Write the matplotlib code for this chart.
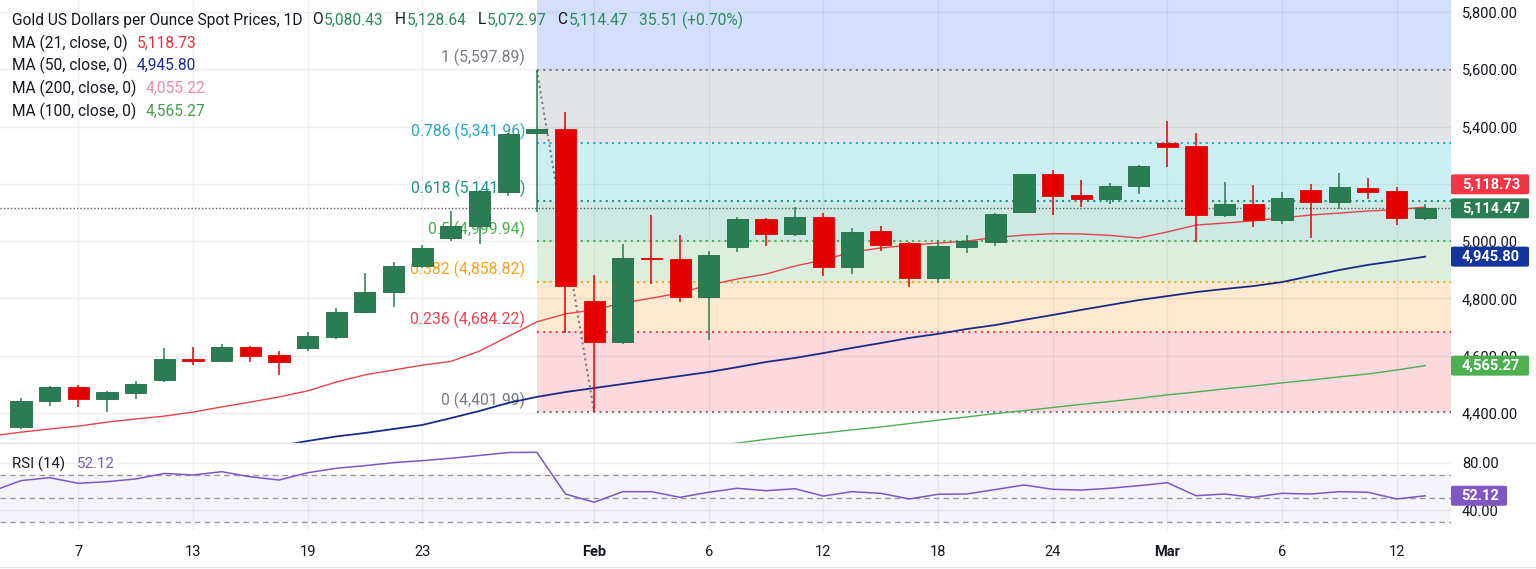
import numpy as np
import pandas as pd
import matplotlib
matplotlib.use("Agg")
import matplotlib.pyplot as plt
from matplotlib.lines import Line2D
from matplotlib.patches import FancyBboxPatch

plt.rcParams['font.family'] = ['Roboto', 'DejaVu Sans']

# ---------------- data ----------------
dates = ['2026-01-02'] + list(pd.bdate_range('2026-01-05', '2026-03-13').strftime('%Y-%m-%d'))
nan = np.nan
opens = [nan,
         4351, 4442, 4491, 4449, 4470, 4515, 4588, 4582, 4630, 4602,
         4627, 4665, 4753, 4822, 4913, 5011, 5053, 5172, 5377, 5391,
         4791, 4648, 4940, 4938, 4805, 4979, 5077, 5025, 5084, 4910,
         5035, 4993, 4871, 4979, 4997, 5102, 5234, 5161, 5148, 5193,
         5344, 5332, 5091, 5131, 5072, 5178, 5136, 5184, 5175, 5080.43]
highs = [nan,
         4452, 4494, 4498, 4475, 4512, 4627, 4630, 4641, 4633, 4616,
         4683, 4766, 4889, 4927, 4986, 5105, 5178, 5376, 5597.89, 5451,
         4882, 4990, 5091, 5021, 4966, 5084, 5081, 5119, 5098, 5046,
         5053, 4996, 5004, 5021, 5098, 5236, 5248, 5213, 5204, 5266,
         5420, 5379, 5206, 5195, 5172, 5198, 5239, 5220, 5190, 5128.64]
lows = [nan,
        4344, 4424, 4421, 4403, 4449, 4508, 4567, 4578, 4578, 4533,
        4616, 4658, 4750, 4770, 4906, 5000, 4990, 5158, 5102, 4679,
        4401.99, 4641, 4850, 4787, 4655, 4962, 4983, 5018, 4878, 4885,
        4965, 4840, 4854, 4959, 4983, 5099, 5091, 5118, 5130, 5165,
        5260, 4996, 5083, 5048, 5060, 5012, 5113, 5147, 5055, 5072.97]
closes = [nan,
          4442, 4491, 4449, 4473, 4501, 4588, 4582, 4630, 4599, 4578,
          4669, 4753, 4822, 4913, 4976, 5053, 5175, 5374, 5391, 4843,
          4648, 4941, 4936, 4805, 4952, 5077, 5025, 5084, 4910, 5032,
          4986, 4871, 4983, 5000, 5095, 5234, 5159, 5148, 5194, 5262,
          5330, 5091, 5131, 5072, 5151, 5136, 5188, 5173, 5080, 5114.47]
ma21 = [4320,
        4333, 4344, 4354, 4368, 4379, 4389, 4403, 4421, 4438, 4456,
        4477, 4508, 4533, 4550, 4567, 4580, 4616, 4667, 4718, 4746,
        4760, 4784, 4801, 4819, 4847, 4868, 4885, 4913, 4934, 4962,
        4976, 4986, 4993, 5000, 5013, 5021, 5026, 5025, 5020, 5011,
        5032, 5056, 5063, 5071, 5081, 5091, 5098, 5105, 5110, 5118.73]
ma50 = [nan] * 10 + [
        4285, 4302, 4318, 4330, 4344, 4358, 4382, 4407, 4435, 4456, 4473,
        4487, 4501, 4515, 4529, 4543, 4560, 4578, 4592, 4609, 4627,
        4644, 4662, 4676, 4693, 4707, 4725, 4742, 4760, 4777, 4794,
        4808, 4822, 4833, 4843, 4857, 4878, 4899, 4917, 4931, 4945.80]
ma100 = [nan] * 25 + [
        4285, 4295, 4308, 4320, 4330, 4341, 4351, 4363, 4375, 4386,
        4398, 4408, 4419, 4430, 4440, 4451, 4463, 4473, 4484, 4494,
        4505, 4515, 4526, 4536, 4550, 4565.27]
rsi = [56.0,
       65.0, 67.5, 62.7, 64.1, 66.4, 71.1, 69.8, 72.6, 68.3, 65.5,
       71.7, 75.5, 77.7, 80.3, 82.0, 84.0, 86.4, 88.9, 89.1, 53.6,
       46.6, 55.6, 55.6, 50.8, 55.1, 58.5, 56.4, 58.1, 51.9, 55.6,
       54.2, 49.4, 53.4, 53.6, 57.4, 61.3, 57.6, 57.0, 58.5, 60.7,
       63.2, 52.2, 53.6, 50.8, 54.2, 53.6, 55.6, 55.1, 49.4, 52.12]

fib_ratios = [1, 0.786, 0.618, 0.5, 0.382, 0.236, 0]
fib_values = [5597.89, 5341.96, 5141.06, 4999.94, 4858.82, 4684.22, 4401.99]
fib_start_date = '2026-01-29'
fib_end_date = '2026-02-02'

x_tick_dates = ['2026-01-07', '2026-01-13', '2026-01-19', '2026-01-23', '2026-02-02', '2026-02-06',
                '2026-02-12', '2026-02-18', '2026-02-24', '2026-03-02', '2026-03-06', '2026-03-12']
x_tick_labels = ['7', '13', '19', '23', 'Feb', '6', '12', '18', '24', 'Mar', '6', '12']
price_ticks = [4400, 4600, 4800, 5000, 5200, 5400, 5600, 5800]
rsi_ticks = [40, 80]

header_title = 'Gold US Dollars per Ounce Spot Prices, 1D'
ohlc_last = [('O', '5,080.43'), ('H', '5,128.64'), ('L', '5,072.97'), ('C', '5,114.47')]
change_text = '35.51 (+0.70%)'
legend_rows = [('MA (21, close, 0)', '5,118.73', '#e5303c'),
               ('MA (50, close, 0)', '4,945.80', '#1a2d8c'),
               ('MA (200, close, 0)', '4,055.22', '#f08aa6'),
               ('MA (100, close, 0)', '4,565.27', '#43a047')]

# ---------------- styling ----------------
W, H = 1536, 569
DARK = '#131722'
GREEN = '#2a7d52'
RED = '#e50000'
C_MA21 = '#e8424d'
C_MA50 = '#1a2b85'
C_MA100 = '#4caf50'
C_RSI = '#7e57c2'
fib_line_colors = ['#787b86', '#27a8c2', '#1f9382', '#4caf50', '#f7a21b', '#e9424f', '#787b86']
fib_fill_colors = ['#e3e4e7', '#caf0f2', '#cde9e3', '#dcefdc', '#fde9cf', '#fbd9dd']
fib_top_fill = '#d3dffb'
FS = 10.5        # axis labels
FS_LEG = 11.2    # legend / header
FS_FIB = 11.3    # fib labels

fig = plt.figure(figsize=(W / 100, H / 100), dpi=100)
fig.patch.set_facecolor('white')

ax_right_px = 1451
main_top, main_bot = 0, 443
rsi_top, rsi_bot = 443, 530
ax = fig.add_axes([0, 1 - main_bot / H, ax_right_px / W, (main_bot - main_top) / H])
ax_r = fig.add_axes([0, 1 - rsi_bot / H, ax_right_px / W, (rsi_bot - rsi_top) / H], sharex=ax)

n = len(dates)
xs = np.arange(n)
pos = {d: i for i, d in enumerate(dates)}
o = np.array(opens, float); h = np.array(highs, float)
l = np.array(lows, float); c = np.array(closes, float)

x0 = pos['2026-01-05']
ax.set_xlim(x0 - 0.733, x0 + 49.9)
ax.set_ylim(4295.1, 5841.9)
ax_r.set_ylim(23.0, 97.0)

for a in (ax, ax_r):
    a.set_facecolor('white')
    for s in a.spines.values():
        s.set_visible(False)

# fib zones
xf0 = pos[fib_start_date]
xf1 = x0 + 49.9
ax.fill_between([xf0, xf1], fib_values[0], 6400, color=fib_top_fill, lw=0, zorder=0.5)
for k in range(len(fib_values) - 1):
    ax.fill_between([xf0, xf1], fib_values[k + 1], fib_values[k], color=fib_fill_colors[k], lw=0, zorder=0.5)

# grid
grid_col = (0.35, 0.38, 0.5, 0.09)
for pt in price_ticks:
    ax.axhline(pt, color=grid_col, lw=1, zorder=0.8)
tick_x = [pos[d] for d in x_tick_dates]
for tx in tick_x:
    ax.axvline(tx, color=grid_col, lw=1, zorder=0.8)
    ax_r.axvline(tx, color=grid_col, lw=1, zorder=0.8)
for rt in rsi_ticks:
    ax_r.axhline(rt, color=grid_col, lw=1, zorder=0.8)

# fib lines + labels
for r, v, col in zip(fib_ratios, fib_values, fib_line_colors):
    ax.plot([xf0, xf1], [v, v], color=col, lw=1.5, ls=(0, (1, 2)), zorder=1)
    lab = f'{r} ({v:,.2f})'
    ax.annotate(lab, xy=(xf0, v), xytext=(-8.5, 8.8), textcoords='offset points',
                ha='right', va='center', color=col, fontsize=FS_FIB, zorder=1.2)

# trend line of fib
xe = pos[fib_end_date]
ax.plot([xf0, xe], [fib_values[0], fib_values[-1]], color='#787b86', lw=1.5, ls=(0, (1, 1.6)), zorder=1.1)

# MAs
ax.plot(xs, ma21, color=C_MA21, lw=1.0, zorder=2)
ax.plot(xs, ma50, color=C_MA50, lw=1.3, zorder=2)
ax.plot(xs, ma100, color=C_MA100, lw=1.0, zorder=2)

# last price line
ax.axhline(closes[-1], color='#4d5e58', lw=1.0, ls=(0, (1, 1.5)), zorder=2.2)

# candles
up = c >= o
cols = np.where(up, GREEN, RED)
ax.vlines(xs, l, h, colors=cols, lw=1.1, zorder=2.9)
body_lo = np.minimum(o, c)
body_h = np.maximum(np.abs(c - o), 6)
ax.bar(xs, body_h, bottom=body_lo, width=0.74, color=cols, edgecolor=np.where(up, '#236b45', RED),
       linewidth=0.6, zorder=3)

# axes ticks
ax.set_yticks(price_ticks)
ax.set_yticklabels([f'{t:,.2f}' for t in price_ticks])
ax.yaxis.tick_right()
ax.tick_params(axis='y', length=0, pad=8, labelsize=FS, labelcolor=DARK)
ax.tick_params(axis='x', length=0, labelbottom=False)
ax_r.set_yticks(rsi_ticks)
ax_r.set_yticklabels([f'{t:.2f}' for t in rsi_ticks])
ax_r.yaxis.tick_right()
ax_r.tick_params(axis='y', length=0, pad=8, labelsize=FS, labelcolor=DARK)
ax_r.set_xticks(tick_x)
ax_r.set_xticklabels(x_tick_labels)
ax_r.tick_params(axis='x', length=0, pad=11, labelsize=FS, labelcolor=DARK)
for lbl in ax_r.get_xticklabels():
    if lbl.get_text() in ('Feb', 'Mar'):
        lbl.set_fontweight('bold')

# RSI pane
ax_r.axhspan(30, 70, color=C_RSI, alpha=0.07, lw=0, zorder=0.6)
for lvl in (70, 50, 30):
    ax_r.axhline(lvl, color='#9598a1', lw=1, ls=(0, (4, 3)), zorder=1)
ax_r.plot(xs, rsi, color=C_RSI, lw=1.1, zorder=2)

# separator lines
fig.add_artist(Line2D([0, 1], [1 - main_bot / H] * 2, transform=fig.transFigure, color='#e0e3eb', lw=1))
fig.add_artist(Line2D([0, 1], [1 - 567 / H] * 2, transform=fig.transFigure, color='#e0e3eb', lw=1))

fig.canvas.draw()
renderer = fig.canvas.get_renderer()


def data_to_pxy(a, val):
    return H - a.transData.transform((0, val))[1]


def price_box(py, text, fc, x_left=1451, width=78, height=20):
    p = FancyBboxPatch((x_left / W, 1 - (py + height / 2) / H), width / W, height / H,
                       boxstyle='round,pad=0,rounding_size=0.002', transform=fig.transFigure,
                       fc=fc, ec='none', zorder=5)
    fig.add_artist(p)
    fig.text((x_left + width / 2 + 1) / W, 1 - py / H, text, color='white', fontsize=FS,
             fontweight='bold', ha='center', va='center', zorder=6)


py_close = data_to_pxy(ax, closes[-1])
py_ma21 = min(data_to_pxy(ax, ma21[-1]), py_close - 24)
price_box(py_ma21, f'{ma21[-1]:,.2f}', '#f23645')
price_box(py_close, f'{closes[-1]:,.2f}', GREEN)
price_box(data_to_pxy(ax, ma50[-1]), f'{ma50[-1]:,.2f}', '#12349c')
price_box(data_to_pxy(ax, ma100[-1]), f'{ma100[-1]:,.2f}', '#4caf50')
price_box(data_to_pxy(ax_r, rsi[-1]), f'{rsi[-1]:.2f}', C_RSI, width=56)


def chain(pieces, x_px, y_px, size):
    x = x_px
    for txt, col, gap in pieces:
        t = fig.text(x / W, 1 - y_px / H, txt, color=col, fontsize=size, ha='left', va='center')
        bb = t.get_window_extent(renderer=renderer)
        x = bb.x1 + gap


OHLC_GREEN = '#2a8a5a'
pieces = [(header_title, DARK, 10)]
for letter, val in ohlc_last:
    pieces.append((letter, DARK, 1))
    pieces.append((val, OHLC_GREEN, 11))
pieces.append((change_text, OHLC_GREEN, 0))
chain(pieces, 12, 20, FS_LEG)

for k, (lab, val, col) in enumerate(legend_rows):
    chain([(lab, DARK, 9), (val, col, 0)], 12, 43 + 22.7 * k, FS_LEG)

chain([('RSI (14)', DARK, 12), (f'{rsi[-1]:.2f}', C_RSI, 0)], 12, 464, 10.8)

fig.savefig('out.png', dpi=100, facecolor='white')
